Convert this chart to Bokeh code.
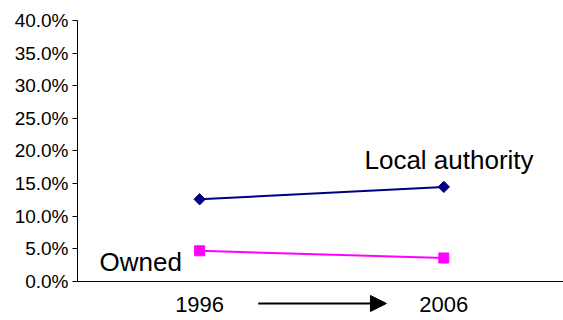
import math
from bokeh.plotting import figure
from bokeh.models import Range1d, FixedTicker, PrintfTickFormatter, Arrow, NormalHead, ColumnDataSource
from bokeh.core.properties import value
from bokeh.embed import file_html
from bokeh.resources import INLINE

years = ["1996", "2006"]
x_pos = [0, 1]
local_authority = [12.6, 14.5]
owned = [4.7, 3.6]
y_ticks = [0, 5, 10, 15, 20, 25, 30, 35, 40]

FONT = "Liberation Sans"

p = figure(width=563, height=320, output_backend="svg", toolbar_location=None,
           x_range=Range1d(-0.5, 1.49), y_range=Range1d(-5.52, 40),
           min_border_left=77, min_border_right=0, min_border_top=20, min_border_bottom=3)
p.outline_line_color = None
p.xgrid.visible = False
p.ygrid.visible = False
p.background_fill_color = "white"
p.border_fill_color = "white"

# y axis
p.yaxis.ticker = FixedTicker(ticks=y_ticks)
p.yaxis.bounds = (0, 40)
p.yaxis.formatter = PrintfTickFormatter(format="%.1f%%")
p.yaxis.major_tick_out = 5
p.yaxis.major_tick_in = 0
p.yaxis.minor_tick_line_color = None
p.yaxis.major_label_standoff = 4
p.yaxis.major_label_text_font = FONT
p.yaxis.major_label_text_font_size = "19px"
p.yaxis.major_label_text_color = "black"
p.yaxis.axis_line_color = "black"

# x axis drawn at y = 0
p.xaxis.fixed_location = 0
p.xaxis.ticker = FixedTicker(ticks=x_pos)
p.xaxis.major_label_overrides = {x: y for x, y in zip(x_pos, years)}
p.xaxis.major_tick_in = 0
p.xaxis.major_tick_out = 0
p.xaxis.minor_tick_line_color = None
p.xaxis.major_label_standoff = 16
p.xaxis.major_label_text_font = FONT
p.xaxis.major_label_text_font_size = "22px"
p.xaxis.major_label_text_color = "black"
p.xaxis.axis_line_color = "black"

src = ColumnDataSource(dict(x=x_pos, la=local_authority, ow=owned))
p.line("x", "la", source=src, line_color="#000080", line_width=2)
p.scatter("x", "la", source=src, marker="square", angle=math.pi / 4, size=8,
          fill_color="#000080", line_color="#000080")
p.line("x", "ow", source=src, line_color="#FF00FF", line_width=2)
p.scatter("x", "ow", source=src, marker="square", size=10, fill_color="#FF00FF", line_color="#FF00FF")

p.text(x=[0.675], y=[18.6], text=["Local authority"], text_font=value(FONT),
       text_font_size="26px", text_color="black", text_baseline="alphabetic", text_align="left")
p.text(x=[-0.41], y=[3.0], text=["Owned"], text_font=value(FONT),
       text_font_size="26px", text_color="black", text_baseline="alphabetic", text_align="left")

arrow = Arrow(x_start=0.24, y_start=-3.37, x_end=0.765, y_end=-3.37,
              line_color="black", line_width=2,
              end=NormalHead(size=16, fill_color="black", line_color="black"))
p.add_layout(arrow)

open("out.html", "w").write(file_html(p, INLINE))
